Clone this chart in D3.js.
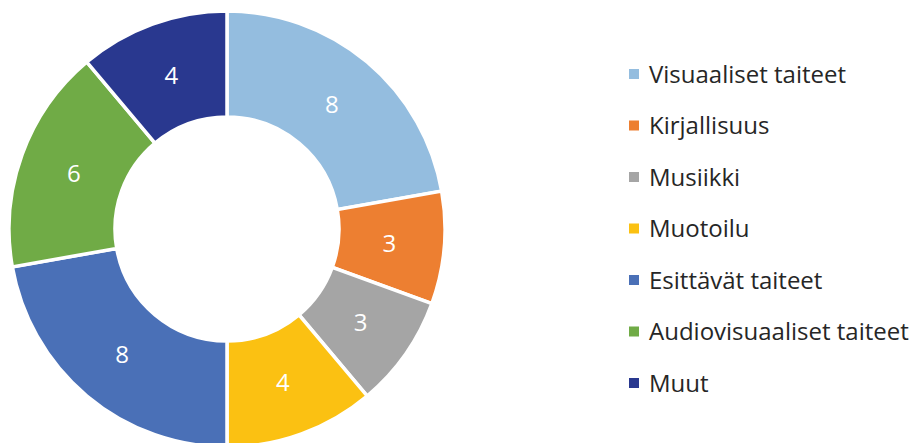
<!DOCTYPE html>
<html>
<head>
<meta charset="utf-8">
<script src="https://cdn.jsdelivr.net/npm/d3@7"></script>
<style>
  body{margin:0;background:#fff}
  svg{display:block}
</style>
</head>
<body>
<svg id="chart" width="913" height="443"></svg>
<script>
// data
const categories=["Visuaaliset taiteet","Kirjallisuus","Musiikki","Muotoilu","Esittävät taiteet","Audiovisuaaliset taiteet","Muut"]
const values=[8,3,3,4,8,6,4]
const colors=["#94bddf","#ed7f31","#a5a5a5","#fbc112","#4a70b7","#70ab46","#29388f"]

const svg=d3.select("#chart")
const cx=227, cy=229, rOut=218, rIn=112

const pie=d3.pie().sort(null).value(d=>d.v)
const arcs=pie(values.map((v,i)=>({v:v,name:categories[i],i:i})))
const arc=d3.arc().innerRadius(rIn).outerRadius(rOut)
const labelArc=d3.arc().innerRadius(163).outerRadius(163)

const g=svg.append("g").attr("transform",`translate(${cx},${cy})`)
g.selectAll("path").data(arcs).enter().append("path")
  .attr("d",arc)
  .attr("fill",d=>colors[d.data.i])
  .attr("stroke","#fff")
  .attr("stroke-width",3.5)
  .attr("stroke-linejoin","miter")

g.selectAll("text").data(arcs).enter().append("text")
  .attr("transform",d=>`translate(${labelArc.centroid(d)})`)
  .attr("text-anchor","middle")
  .attr("dy","0.36em")
  .attr("fill","#fff")
  .style("font-family","'Open Sans','Noto Sans',sans-serif")
  .style("font-size","24px")
  .text(d=>d.data.v)

// legend
const ly=d3.scalePoint().domain(categories).range([74,383])
const lg=svg.append("g")
const item=lg.selectAll("g").data(categories).enter().append("g")
  .attr("transform",d=>`translate(629,${ly(d)})`)
item.append("rect").attr("x",0).attr("y",-5).attr("width",10).attr("height",10)
  .attr("fill",(d,i)=>colors[i])
item.append("text").attr("x",20).attr("dy","0.36em")
  .attr("fill","#262626")
  .style("font-family","'Open Sans','Noto Sans',sans-serif")
  .style("font-size","24px")
  .text(d=>d)
</script>
</body>
</html>
